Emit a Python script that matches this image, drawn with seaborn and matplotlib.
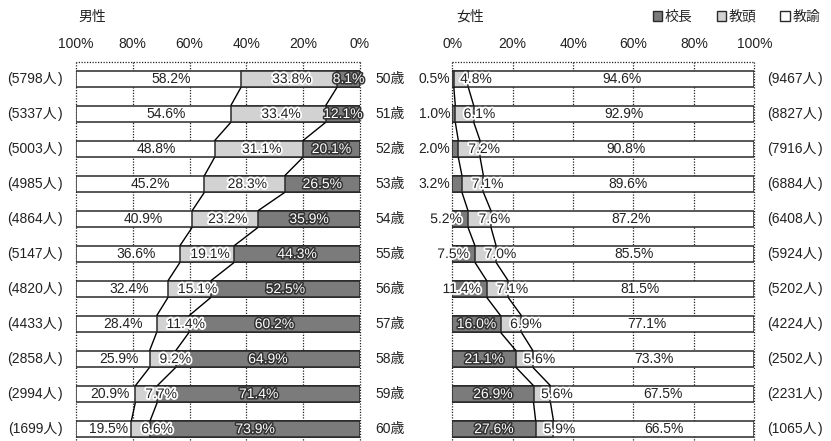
import matplotlib
matplotlib.use("Agg")
import matplotlib.pyplot as plt
import matplotlib.patheffects as pe
import matplotlib.transforms as mtransforms
from matplotlib.patches import Patch
import seaborn as sns

sns.set_theme(style="white")
plt.rcParams["font.family"] = ["Liberation Sans", "Noto Sans CJK JP", "DejaVu Sans"]

# 年齢別の職位構成（校長・教頭・教諭）
ages = ["50歳", "51歳", "52歳", "53歳", "54歳", "55歳", "56歳", "57歳", "58歳", "59歳", "60歳"]

male_n = [5798, 5337, 5003, 4985, 4864, 5147, 4820, 4433, 2858, 2994, 1699]
male_kocho = [8.1, 12.1, 20.1, 26.5, 35.9, 44.3, 52.5, 60.2, 64.9, 71.4, 73.9]
male_kyoto = [33.8, 33.4, 31.1, 28.3, 23.2, 19.1, 15.1, 11.4, 9.2, 7.7, 6.6]
male_kyoyu = [58.2, 54.6, 48.8, 45.2, 40.9, 36.6, 32.4, 28.4, 25.9, 20.9, 19.5]

female_n = [9467, 8827, 7916, 6884, 6408, 5924, 5202, 4224, 2502, 2231, 1065]
female_kocho = [0.5, 1.0, 2.0, 3.2, 5.2, 7.5, 11.4, 16.0, 21.1, 26.9, 27.6]
female_kyoto = [4.8, 6.1, 7.2, 7.1, 7.6, 7.0, 7.1, 6.9, 5.6, 5.6, 5.9]
female_kyoyu = [94.6, 92.9, 90.8, 89.6, 87.2, 85.5, 81.5, 77.1, 73.3, 67.5, 66.5]

roles = ["校長", "教頭", "教諭"]
tick_values = [0, 20, 40, 60, 80, 100]

DARK = "#7b7b7b"
LIGHT = "#d2d2d2"
EDGE = "#2a2a2a"
TXT = "#222222"
BAR_H = 0.477
FS = 10

W, H = 831, 441
fig = plt.figure(figsize=(W / 100, H / 100), dpi=100)

TOP_PX = 61.7
y_top = -0.494
y_bot = 10.34


def px_axes(x0, x1):
    return fig.add_axes([x0 / W, 0, (x1 - x0) / W, (H - TOP_PX) / H])


ax_m = px_axes(76, 360)
ax_f = px_axes(452.3, 754.3)

halo_w = [pe.withStroke(linewidth=2.6, foreground="white")]
halo_d = [pe.withStroke(linewidth=2.2, foreground="#333333")]


def draw_panel(ax, kocho, kyoto, kyoyu, reverse):
    total = [a + b + c for a, b, c in zip(kocho, kyoto, kyoyu)]
    mid = [a + b for a, b in zip(kocho, kyoto)]
    for vals, col in ((total, "white"), (mid, LIGHT), (kocho, DARK)):
        sns.barplot(x=vals, y=ages, orient="h", color=col, saturation=1,
                    width=BAR_H, edgecolor=EDGE, linewidth=1.1,
                    errorbar=None, ax=ax, zorder=3)
    ax.set_ylim(y_bot, y_top)
    ax.set_xlim((100, 0) if reverse else (0, 100))
    # dotted grid
    ax.vlines(tick_values, y_top, y_bot, colors="#222222", linestyles=(0, (1, 1.2)),
              linewidth=0.9, zorder=1, clip_on=False)
    ax.hlines(y_top, 0, 100, colors="#222222", linestyles=(0, (1, 1.2)),
              linewidth=0.9, zorder=1, clip_on=False)
    # connectors between consecutive bars
    for bnd in (kocho, mid):
        for i in range(len(ages) - 1):
            ax.plot([bnd[i], bnd[i + 1]], [i + BAR_H / 2, i + 1 - BAR_H / 2],
                    color="black", linewidth=1.0, zorder=4, solid_capstyle="butt")
    ax.set_xticks(tick_values)
    ax.set_xticklabels([f"{t}%" for t in tick_values])
    ax.xaxis.set_ticks_position("top")
    ax.tick_params(axis="x", length=0, pad=7.5, labelsize=FS, colors=TXT)
    ax.set_yticks([])
    ax.set_xlabel("")
    ax.set_ylabel("")
    for s in ax.spines.values():
        s.set_visible(False)
    return mid


mid_m = draw_panel(ax_m, male_kocho, male_kyoto, male_kyoyu, reverse=True)
mid_f = draw_panel(ax_f, female_kocho, female_kyoto, female_kyoyu, reverse=False)

# value labels, male
for i in range(len(ages)):
    k, t, y = male_kocho[i], male_kyoto[i], male_kyoyu[i]
    ax_m.text(k / 2, i, f"{k:.1f}%", ha="center", va="center", fontsize=FS,
              color="white", path_effects=halo_d, zorder=6)
    if t >= 16:
        ax_m.text(k + t / 2 - 1, i, f"{t:.1f}%", ha="center", va="center", fontsize=FS,
                  color=TXT, path_effects=halo_w, zorder=6)
    else:
        ax_m.text(k + t - 3.5, i, f"{t:.1f}%", ha="left", va="center", fontsize=FS,
                  color=TXT, path_effects=halo_w, zorder=6)
    ax_m.text(k + t + y * 0.42, i, f"{y:.1f}%", ha="center", va="center",
              fontsize=FS, color=TXT, zorder=6)

# value labels, female
for i in range(len(ages)):
    k, t, y = female_kocho[i], female_kyoto[i], female_kyoyu[i]
    if k < 5:
        ax_f.text(-0.6, i, f"{k:.1f}%", ha="right", va="center", fontsize=FS,
                  color=TXT, zorder=6, clip_on=False)
    elif k < 15:
        ax_f.text(k - 2, i, f"{k:.1f}%", ha="right", va="center", fontsize=FS,
                  color=TXT, path_effects=halo_w, zorder=6, clip_on=False)
    else:
        ax_f.text(k / 2, i, f"{k:.1f}%", ha="center", va="center", fontsize=FS,
                  color="white", path_effects=halo_d, zorder=6)
    ax_f.text(k + t / 2 - 0.3, i, f"{t:.1f}%", ha="left", va="center", fontsize=FS,
              color=TXT, path_effects=halo_w, zorder=6)
    ax_f.text((k + t / 2 + 9.5 + 100) / 2, i, f"{y:.1f}%", ha="center", va="center",
              fontsize=FS, color=TXT, zorder=6)


def count_label(x_end_px, y, n):
    # "(n人" then the closing bracket as its own piece so it sits right after 人
    body = fig.text(x_end_px / W, y, f"({n}人", transform=tr, ha="right", va="center",
                    fontsize=FS, color=TXT)
    fig.text(x_end_px / W + 0.5 / W, y, ")", transform=tr, ha="left", va="center",
             fontsize=FS, color=TXT)
    return body


# side labels: head counts and ages
tr = mtransforms.blended_transform_factory(fig.transFigure, ax_m.transData)
for i in range(len(ages)):
    count_label(57, i, male_n[i])
    fig.text(390 / W, i, ages[i], transform=tr, ha="center", va="center",
             fontsize=FS, color=TXT)
    count_label(817, i, female_n[i])

# panel titles
fig.text(92 / W, 1 - 17 / H, "男性", ha="center", va="center", fontsize=FS, color=TXT)
fig.text(470 / W, 1 - 17 / H, "女性", ha="center", va="center", fontsize=FS, color=TXT)

handles = [Patch(facecolor=c, edgecolor=EDGE, linewidth=1.0) for c in (DARK, LIGHT, "white")]
fig.legend(handles, roles, ncol=3, loc="center right", bbox_to_anchor=(820 / W, 1 - 17 / H),
           frameon=False, fontsize=FS, handlelength=0.7, handleheight=0.7,
           handletextpad=0.15, columnspacing=1.75, borderpad=0, borderaxespad=0)

fig.savefig("out.png", dpi=100)
